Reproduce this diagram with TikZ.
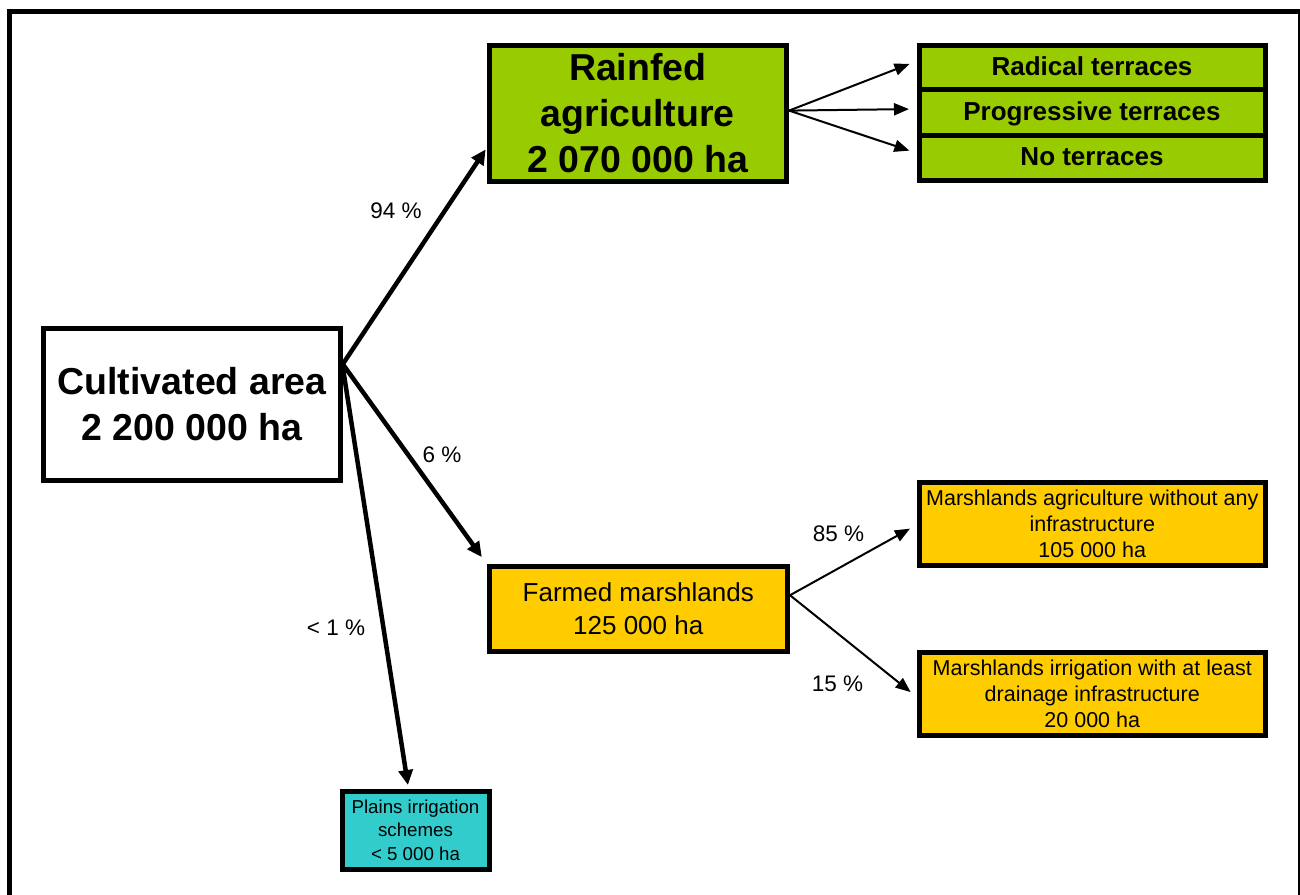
\documentclass[tikz,border=0pt]{standalone}
\usepackage{fontspec}
\setmainfont{Liberation Sans}
\usetikzlibrary{arrows.meta}
\definecolor{rfgreen}{HTML}{99CC00}
\definecolor{mgold}{HTML}{FFCC00}
\definecolor{pcyan}{HTML}{33CCCC}
\begin{document}
\begin{tikzpicture}[x=1pt,y=-1pt,
  box/.style={draw=black, line width=5pt, rectangle, inner sep=0pt, align=center, anchor=center},
  bigtext/.style={font=\bfseries\fontsize{37.5}{46}\selectfont},
  terrtext/.style={font=\bfseries\fontsize{26}{31}\selectfont, text height=19pt, text depth=3.5pt},
  midtext/.style={font=\fontsize{26}{33}\selectfont},
  smalltext/.style={font=\fontsize{21.5}{26}\selectfont},
  tinytext/.style={font=\fontsize{18.7}{23.5}\selectfont},
  pct/.style={font=\fontsize{22.5}{27}\selectfont, inner sep=0pt},
  bigarrow/.style={line width=4.5pt, -{Triangle[length=15pt,width=14pt]}},
  smallarrow/.style={line width=2pt, -{Triangle[length=15pt,width=12pt]}}
]
\useasboundingbox (0,0) rectangle (1300,894);
\fill[white] (0,0) rectangle (1300,894);
\draw[line width=5pt] (9,900) -- (9,11) -- (1300.5,11) -- (1300.5,900);

\node[box, fill=white, minimum width=296.5pt, minimum height=152pt, bigtext] (cult) at (192,404.5) {Cultivated area\\2 200 000 ha};
\node[box, fill=rfgreen, minimum width=297.5pt, minimum height=136.5pt, bigtext] (rain) at (637.75,113.25) {Rainfed\\agriculture\\2 070 000 ha};
\node[box, fill=rfgreen, minimum width=346pt, minimum height=44.5pt, terrtext] (t1) at (1092,67.25) {Radical terraces};
\node[box, fill=rfgreen, minimum width=346pt, minimum height=46pt, terrtext] (t2) at (1092,112.5) {Progressive terraces};
\node[box, fill=rfgreen, minimum width=346pt, minimum height=45pt, terrtext] (t3) at (1092,158) {No terraces};
\node[box, fill=mgold, minimum width=298.5pt, minimum height=85pt, midtext] (farm) at (638.25,608.5) {Farmed marshlands\\125 000 ha};
\node[box, fill=mgold, minimum width=346.5pt, minimum height=83pt, smalltext] (m1) at (1092.25,523.5) {Marshlands agriculture without any\\infrastructure\\105 000 ha};
\node[box, fill=mgold, minimum width=346.5pt, minimum height=82.5pt, smalltext] (m2) at (1092.25,693.75) {Marshlands irrigation with at least\\drainage infrastructure\\20 000 ha};
\node[box, fill=pcyan, minimum width=147pt, minimum height=78pt, tinytext] (plains) at (415.5,830) {Plains irrigation\\schemes\\< 5 000 ha};

\draw[bigarrow, shorten >=1.5pt] (cult.15) -- (rain.193);
\draw[bigarrow, shorten >=8pt] (cult.15) -- (farm.north west);
\draw[bigarrow, shorten >=3.5pt] (cult.14) -- ([xshift=-7pt]plains.north);

\draw[smallarrow, shorten >=7.5pt] (rain.1.5) -- ([yshift=6pt]t1.west);
\draw[smallarrow, shorten >=7.5pt] (rain.1.5) -- ([yshift=3.5pt]t2.west);
\draw[smallarrow, shorten >=7.5pt] (rain.1.5) -- ([yshift=5pt]t3.west);

\draw[smallarrow, shorten >=7.5pt] (farm.5) -- ([yshift=-1.5pt]m1.west);
\draw[smallarrow, shorten >=7.5pt] (farm.5) -- ([yshift=-3pt]m2.west);

\node[pct] (p94) at (396,211) {94 \%};
\node[pct] (p6) at (442,455) {6 \%};
\node[pct] (p1) at (336,628) {< 1 \%};
\node[pct] (p85) at (838.5,533.5) {85 \%};
\node[pct] (p15) at (837.5,683.5) {15 \%};
\end{tikzpicture}
\end{document}
